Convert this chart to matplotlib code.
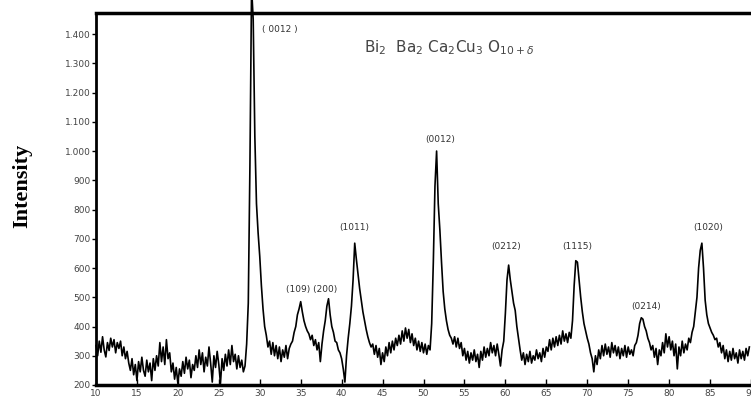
import numpy as np
import matplotlib.pyplot as plt

# 2-theta scan, every 0.2 deg (10.0 .. 89.8)
two_theta = np.round(np.arange(10.0, 89.81, 0.2), 1)

intensity = [
    335, 300, 350, 312, 365, 320, 296, 345, 318, 360,   # 10-11.8
    330, 355, 310, 345, 325, 350, 300, 330, 290, 315,   # 12-13.8
    275, 250, 290, 235, 270, 215, 280, 245, 295, 250,   # 14-15.8
    230, 285, 245, 275, 215, 290, 250, 300, 265, 345,   # 16-17.8
    280, 330, 270, 355, 290, 310, 245, 275, 220, 260,   # 18-19.8
    205, 255, 230, 280, 240, 295, 255, 285, 225, 270,   # 20-21.8
    250, 300, 260, 320, 270, 310, 245, 295, 265, 330,   # 22-23.8
    275, 210, 300, 260, 315, 270, 205, 290, 250, 305,   # 24-25.8
    265, 320, 270, 335, 280, 305, 255, 300, 260, 285,   # 26-27.8
    245, 265, 340, 480, 950, 1560, 1450, 1050, 820, 720,  # 28-29.8
    640, 540, 460, 400, 370, 330, 350, 305, 345, 300,   # 30-31.8
    335, 290, 330, 280, 320, 295, 335, 290, 325, 340,   # 32-33.8
    350, 380, 400, 440, 460, 485, 450, 420, 400, 385,   # 34-35.8
    375, 355, 370, 335, 355, 320, 345, 280, 340, 385,   # 36-37.8
    420, 470, 495, 440, 400, 380, 350, 345, 320, 310,   # 38-39.8
    290, 255, 210, 300, 360, 410, 470, 560, 685, 630,   # 40-41.8
    580, 530, 490, 450, 420, 390, 365, 345, 330, 340,   # 42-43.8
    305, 335, 295, 325, 270, 310, 280, 330, 300, 345,   # 44-45.8
    310, 350, 320, 360, 335, 370, 340, 385, 350, 395,   # 46-47.8
    360, 390, 345, 375, 335, 360, 320, 350, 315, 345,   # 48-49.8
    310, 340, 305, 335, 320, 410, 620, 880, 1000, 820,  # 50-51.8
    730, 620, 520, 460, 420, 390, 370, 360, 340, 365,   # 52-53.8
    330, 360, 325, 345, 300, 325, 285, 315, 275, 310,   # 54-55.8
    285, 320, 280, 305, 260, 315, 285, 330, 295, 325,   # 56-57.8
    300, 345, 310, 335, 300, 340, 305, 265, 320, 350,   # 58-59.8
    445, 560, 610, 560, 520, 480, 455, 400, 360, 320,   # 60-61.8
    285, 310, 270, 305, 280, 315, 275, 300, 285, 320,   # 62-63.8
    290, 310, 280, 325, 295, 330, 315, 355, 320, 360,   # 64-65.8
    330, 365, 335, 370, 340, 385, 350, 375, 345, 380,   # 66-67.8
    360, 420, 540, 625, 620, 560, 500, 450, 410, 385,   # 68-69.8
    360, 340, 310, 290, 245, 300, 270, 320, 290, 335,   # 70-71.8
    300, 340, 305, 330, 295, 345, 310, 335, 300, 330,   # 72-73.8
    290, 325, 300, 335, 295, 330, 305, 320, 300, 335,   # 74-75.8
    345, 370, 410, 430, 425, 400, 385, 360, 345, 320,   # 76-77.8
    335, 295, 325, 270, 320, 300, 345, 310, 375, 330,   # 78-79.8
    365, 320, 350, 300, 340, 255, 330, 300, 350, 310,   # 80-81.8
    340, 320, 360, 345, 380, 400, 450, 500, 600, 660,   # 82-83.8
    685, 600, 490, 440, 410, 395, 380, 370, 355, 360,   # 84-85.8
    330, 345, 310, 335, 290, 320, 280, 315, 285, 325,   # 86-87.8
    290, 310, 275, 320, 290, 315, 285, 325, 300, 330,   # 88-89.8
]

peak_labels = ['( 0012 )', '(109) (200)', '(1011)', '(0012)',
               '(0212)', '(1115)', '(0214)', '(1020)']
label_x = [32.4, 36.3, 41.5, 52.0, 60.1, 68.8, 77.2, 84.8]
label_y = [1414, 525, 737, 1038, 672, 672, 467, 737]

y_ticks = [200, 300, 400, 500, 600, 700, 800, 900,
           1000, 1100, 1200, 1300, 1400]
y_tick_labels = ['200', '300', '400', '500', '600', '700', '800', '900',
                 '1.000', '1.100', '1.200', '1.300', '1.400']
x_ticks = [10, 15, 20, 25, 30, 35, 40, 45, 50, 55, 60, 65, 70, 75, 80, 85, 90]

fig = plt.figure(figsize=(7.51, 4.03), dpi=100)
ax = fig.add_axes([96 / 751, 18 / 403, 1 - 96 / 751, 372 / 403])

ax.plot(two_theta, intensity, color='black', lw=1.2, clip_on=False)
ax.set_xlim(10, 89.8)
ax.set_ylim(200, 1472)

ax.set_xticks(x_ticks)
ax.set_xticklabels([str(t) for t in x_ticks])
ax.set_yticks(y_ticks)
ax.set_yticklabels(y_tick_labels)
ax.tick_params(axis='x', direction='in', length=4, width=1, pad=3,
               labelsize=6.5, labelcolor='#444444')
ax.tick_params(axis='y', direction='out', length=3, width=1, pad=1,
               labelsize=6.5, labelcolor='#444444')

ax.spines['right'].set_visible(False)
ax.spines['top'].set_linewidth(2.5)
ax.spines['bottom'].set_linewidth(2.5)
ax.spines['left'].set_linewidth(2)

for lab, lx, ly in zip(peak_labels, label_x, label_y):
    ax.text(lx, ly, lab, fontsize=6.5, color='#333333', ha='center', va='center')

ax.text(42.7, 1352, r'Bi$_2$  Ba$_2$ Ca$_2$Cu$_3$ O$_{10+\delta}$',
        fontsize=11, color='#444444', ha='left', va='center')

fig.text(22 / 751, 1 - 186 / 403, 'Intensity', rotation=90, ha='center',
         va='center', fontsize=16, fontweight='bold', family='Liberation Serif')

fig.savefig('out.png', dpi=100)
